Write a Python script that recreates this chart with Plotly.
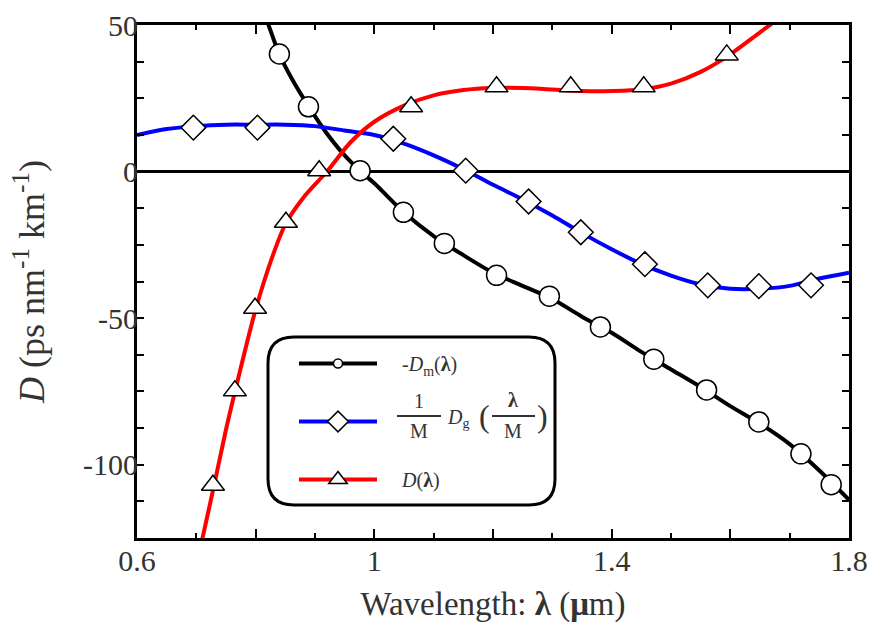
import plotly.graph_objects as go

# ---- material dispersion, plotted as -Dm(λ) ----
dm_lam = [0.82, 0.84, 0.86, 0.89, 0.92, 0.95, 0.98, 1.00, 1.05, 1.10, 1.15, 1.20, 1.25,
          1.30, 1.35, 1.40, 1.45, 1.50, 1.55, 1.60, 1.65, 1.70, 1.75, 1.80]
dm_val = [51, 40, 32, 22, 13, 5.5, -0.5, -4, -14, -22, -28.5, -34.5, -39,
          -43.5, -49.5, -55, -61.5, -67.5, -73.5, -80, -86, -93, -102, -112]
dm_mk_lam = [0.840, 0.889, 0.976, 1.049, 1.118, 1.206, 1.295, 1.381, 1.471, 1.560, 1.648, 1.719, 1.770]
dm_mk_val = [40.1, 22.1, 0.3, -13.9, -24.5, -35.4, -42.5, -53.0, -64.0, -74.5, -85.4, -96.3, -106.8]

# ---- scaled waveguide dispersion (1/M) Dg(λ/M) ----
dg_lam = [0.60, 0.65, 0.70, 0.75, 0.80, 0.85, 0.90, 0.95, 1.00, 1.05, 1.10, 1.15, 1.20,
          1.25, 1.30, 1.35, 1.40, 1.45, 1.50, 1.55, 1.60, 1.65, 1.70, 1.75, 1.80]
dg_val = [12.5, 14.5, 15.5, 16, 16, 16, 15.5, 14, 12.5, 9.5, 5.5, 0.8, -4.5,
          -9.5, -15, -21, -26.5, -31.5, -35.5, -38.5, -40, -40, -39, -36.5, -34.5]
dg_mk_lam = [0.695, 0.803, 1.032, 1.154, 1.260, 1.348, 1.456, 1.562, 1.648, 1.736]
dg_mk_val = [15.0, 15.0, 11.2, 0.3, -10.2, -20.7, -31.6, -38.8, -39.1, -38.8]

# ---- total dispersion D(λ) ----
d_lam = [0.705, 0.73, 0.75, 0.77, 0.80, 0.83, 0.85, 0.88, 0.92, 0.96, 1.00, 1.05, 1.10,
         1.15, 1.20, 1.25, 1.30, 1.35, 1.40, 1.45, 1.50, 1.55, 1.60, 1.65, 1.68]
d_val = [-130, -107, -88, -71, -47, -28, -18, -9, 0, 10, 17, 22.5, 26,
         27.8, 28.5, 28.5, 28, 27.5, 27.5, 28, 30, 34, 40, 47.5, 52]
d_mk_lam = [0.728, 0.765, 0.799, 0.851, 0.907, 1.062, 1.206, 1.331, 1.454, 1.594]
d_mk_val = [-107.0, -74.8, -46.6, -17.3, 0.3, 22.1, 28.9, 28.9, 28.9, 39.8]

x_ticks = [0.6, 0.8, 1.0, 1.2, 1.4, 1.6, 1.8]
x_labels = ["0.6", "", "1", "", "1.4", "", "1.8"]
y_ticks = [50 - 12.5 * i for i in range(15)]
y_labels = [("%g" % v) if v % 50 == 0 else "" for v in y_ticks]

FONT = "Times New Roman, Liberation Serif, serif"
TXT = "#333333"
PAD = "\u2002\u2002"

fig = go.Figure()

series = [
    (dm_lam, dm_val, dm_mk_lam, dm_mk_val, "black", "circle", 20, 9,
     PAD + "-<i>D</i><sub>m</sub>(<b>λ</b>)"),
    (dg_lam, dg_val, dg_mk_lam, dg_mk_val, "#0000ff", "diamond", 19, 17, " "),
    (d_lam, d_val, d_mk_lam, d_mk_val, "#ff0000", "triangle-up", 20, 18,
     PAD + "<i>D</i>(<b>λ</b>)"),
]

# curves
for lam, val, _, _, col, _, _, _, _ in series:
    fig.add_trace(go.Scatter(x=lam, y=val, mode="lines", showlegend=False,
                             line=dict(color=col, width=4, shape="spline", smoothing=0.8),
                             hoverinfo="skip"))
# symbols on top of all curves
for _, _, mx, my, col, sym, size, _, _ in series:
    fig.add_trace(go.Scatter(x=mx, y=my, mode="markers", showlegend=False,
                             marker=dict(symbol=sym, size=size, color="white",
                                         line=dict(color="black", width=1.5))))
# legend entries
for i, (_, _, _, _, col, sym, _, lsize, name) in enumerate(series):
    fig.add_trace(go.Scatter(x=[None], y=[None], mode="lines+markers", name=name,
                             legendgroup="g%d" % i,
                             line=dict(color=col, width=4),
                             marker=dict(symbol=sym, size=lsize, color="white",
                                         line=dict(color="black", width=1.5))))

# plot-area geometry (pixels) used for paper-coordinate decorations
W, H = 871, 632
ML, MR, MT, MB = 137, 22, 25, 94
PW, PH = W - ML - MR, H - MT - MB


def px(x):
    return (x - ML) / PW


def py(y):
    return (H - MB - y) / PH


# rounded legend frame
x0, x1, y0, y1, r = 268, 555, 337, 505, 26
path = (f"M {px(x0 + r)},{py(y0)} L {px(x1 - r)},{py(y0)} "
        f"Q {px(x1)},{py(y0)} {px(x1)},{py(y0 + r)} L {px(x1)},{py(y1 - r)} "
        f"Q {px(x1)},{py(y1)} {px(x1 - r)},{py(y1)} L {px(x0 + r)},{py(y1)} "
        f"Q {px(x0)},{py(y1)} {px(x0)},{py(y1 - r)} L {px(x0)},{py(y0 + r)} "
        f"Q {px(x0)},{py(y0)} {px(x0 + r)},{py(y0)} Z")
fig.add_shape(type="path", path=path, xref="paper", yref="paper",
              line=dict(color="black", width=3), fillcolor="rgba(0,0,0,0)")


# (1/M) Dg(λ/M) label built from pieces
def txt(x, y, s, size=20, anchor="center"):
    fig.add_annotation(x=px(x), y=py(y), xref="paper", yref="paper", text=s,
                       showarrow=False, font=dict(family=FONT, size=size, color=TXT),
                       xanchor=anchor, yanchor="middle")


def bar(xa, xb, y):
    fig.add_shape(type="line", xref="paper", yref="paper", x0=px(xa), x1=px(xb),
                  y0=py(y), y1=py(y), line=dict(color=TXT, width=2))


ry = 416
txt(419, ry - 15, "1")
bar(397, 441, ry)
txt(419, ry + 15, "M")
txt(445, ry + 2, "<i>D</i><sub>g</sub>", anchor="left")
txt(484, ry, "(", size=32)
txt(513, ry - 16, "<b>λ</b>")
bar(492, 535, ry)
txt(513, ry + 15, "M")
txt(542, ry, ")", size=32)

axis_common = dict(showline=True, linecolor="black", linewidth=3, mirror="ticks",
                   ticks="inside", tickcolor="black", tickwidth=2, showgrid=False,
                   automargin=False,
                   tickfont=dict(family=FONT, size=30, color=TXT))

fig.update_xaxes(range=[0.6, 1.8], tickvals=x_ticks, ticktext=x_labels, ticklen=9,
                 ticklabelstandoff=-6,
                 minor=dict(dtick=0.1, tick0=0.6, ticks="inside", ticklen=5,
                            tickcolor="black", tickwidth=2),
                 title=dict(text="Wavelength: <b>λ</b> (<b>μ</b>m)", standoff=16,
                            font=dict(family=FONT, size=33, color=TXT)),
                 zeroline=False, **axis_common)
fig.update_yaxes(range=[-125, 50], tickvals=y_ticks, ticktext=y_labels, ticklen=7,
                 ticklabelstandoff=-10,
                 zeroline=True, zerolinecolor="black", zerolinewidth=3,
                 title=dict(text="<i>D</i> (ps nm<sup>-1</sup> km<sup>-1</sup>)", standoff=28,
                            font=dict(family=FONT, size=36, color=TXT)),
                 **axis_common)

fig.update_layout(
    width=W, height=H,
    margin=dict(l=ML, r=MR, t=MT, b=MB, autoexpand=False),
    paper_bgcolor="white", plot_bgcolor="white",
    font=dict(family=FONT, color=TXT),
    legend=dict(x=px(294), y=py(344), xanchor="left", yanchor="top",
                bgcolor="rgba(0,0,0,0)", borderwidth=0, itemwidth=78,
                tracegroupgap=29, traceorder="grouped",
                font=dict(family=FONT, size=20, color=TXT)),
)

fig.write_html("out.html")
